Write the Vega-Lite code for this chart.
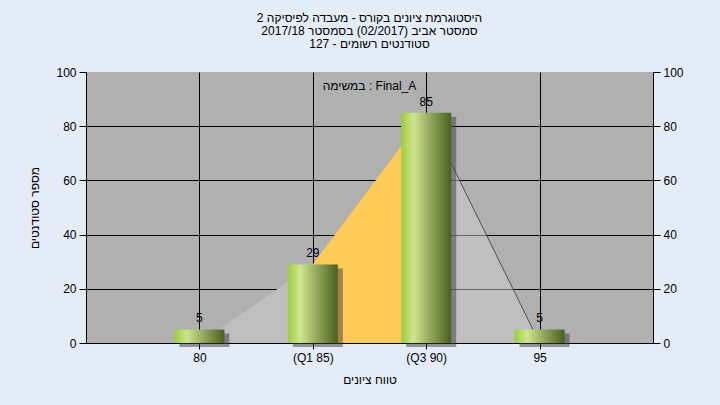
{
  "$schema": "https://vega.github.io/schema/vega-lite/v6.json",
  "width": 567,
  "height": 271,
  "autosize": {"type": "none"},
  "padding": {"left": 86, "top": 72, "right": 67, "bottom": 62},
  "background": "#e4ecf8",
  "title": {
    "text": ["2 היסטוגרמת ציונים בקורס - מעבדה לפיסיקה", "2017/18 סמסטר אביב  (02/2017)  בסמסטר", "סטודנטים רשומים - 127"],
    "font": "Liberation Sans",
    "fontSize": 12,
    "fontWeight": "normal",
    "color": "#000000",
    "lineHeight": 13,
    "offset": 15,
    "anchor": "middle"
  },
  "config": {
    "view": {"fill": "#b0b0b0", "stroke": null},
    "axis": {
      "labelFont": "Liberation Sans",
      "labelFontSize": 12,
      "labelColor": "#000000",
      "titleFont": "Liberation Sans",
      "titleFontSize": 12,
      "titleFontWeight": "normal",
      "titleColor": "#000000",
      "domainColor": "#000000",
      "tickColor": "#000000",
      "gridColor": "#000000",
      "gridOpacity": 1,
      "domainWidth": 1,
      "tickWidth": 1,
      "gridWidth": 1
    },
    "text": {"font": "Liberation Sans", "fontSize": 12, "color": "#000000"}
  },
  "datasets": {
    "bars": [
      {"range": "80", "count": 5},
      {"range": "(Q1 85)", "count": 29},
      {"range": "(Q3 90)", "count": 85},
      {"range": "95", "count": 5}
    ],
    "curve": [
      {"range": "80", "value": 0, "part": "low"},
      {"range": "(Q1 85)", "value": 29, "part": "low"},
      {"range": "(Q1 85)", "value": 29, "part": "iqr"},
      {"range": "(Q3 90)", "value": 85, "part": "iqr"},
      {"range": "(Q3 90)", "value": 85, "part": "high"},
      {"range": "95", "value": 0, "part": "high"}
    ],
    "note": [{"label": "במשימה : Final_A", "level": 95}]
  },
  "encoding": {
    "x": {
      "field": "range",
      "type": "nominal",
      "scale": {"type": "point", "padding": 1, "domain": ["80", "(Q1 85)", "(Q3 90)", "95"]},
      "axis": {
        "title": "טווח ציונים",
        "labelAngle": 0,
        "tickSize": 6,
        "labelPadding": 3,
        "titlePadding": 11,
        "grid": true
      }
    }
  },
  "resolve": {"axis": {"y": "independent"}},
  "layer": [
    {
      "data": {"name": "curve"},
      "transform": [{"filter": "datum.part === 'low'"}],
      "mark": {"type": "area", "color": "#bfbfbf", "opacity": 1},
      "encoding": {
        "y": {
          "field": "value",
          "type": "quantitative",
          "scale": {"domain": [0, 100], "nice": false},
          "axis": {
            "title": "מספר סטודנטים",
            "values": [0, 20, 40, 60, 80, 100],
            "tickSize": 7,
            "labelPadding": 3,
            "titlePadding": 14,
            "grid": true,
            "gridColor": {"condition": {"test": "datum.value === 100", "value": "transparent"}, "value": "#000000"}
          }
        }
      }
    },
    {
      "data": {"name": "curve"},
      "transform": [{"filter": "datum.part === 'iqr'"}],
      "mark": {"type": "area", "color": "#ffcb57", "opacity": 1},
      "encoding": {
        "y": {"field": "value", "type": "quantitative", "axis": null}
      }
    },
    {
      "data": {"name": "curve"},
      "transform": [{"filter": "datum.part === 'high'"}],
      "mark": {"type": "area", "color": "#cdcdcd", "opacity": 0.5},
      "encoding": {
        "y": {"field": "value", "type": "quantitative", "axis": null}
      }
    },
    {
      "data": {"name": "curve"},
      "transform": [{"filter": "datum.part === 'high'"}],
      "mark": {"type": "line", "color": "#505050", "strokeWidth": 1},
      "encoding": {
        "y": {"field": "value", "type": "quantitative", "axis": null}
      }
    },
    {
      "data": {"name": "bars"},
      "mark": {"type": "bar", "width": 50, "color": "#3c3c3c", "opacity": 0.5, "xOffset": 5, "yOffset": 4},
      "encoding": {
        "y": {"field": "count", "type": "quantitative", "axis": null}
      }
    },
    {
      "data": {"name": "bars"},
      "mark": {
        "type": "bar",
        "width": 50,
        "color": {
          "gradient": "linear",
          "x1": 0, "y1": 0, "x2": 1, "y2": 0,
          "stops": [
            {"offset": 0, "color": "#9dcb3a"},
            {"offset": 0.25, "color": "#cfe690"},
            {"offset": 0.55, "color": "#97ad60"},
            {"offset": 1, "color": "#4a611f"}
          ]
        }
      },
      "encoding": {
        "y": {
          "field": "count",
          "type": "quantitative",
          "axis": {
            "orient": "right",
            "title": null,
            "values": [0, 20, 40, 60, 80, 100],
            "tickSize": 7,
            "labelPadding": 3,
            "grid": false
          }
        }
      }
    },
    {
      "data": {"name": "bars"},
      "mark": {"type": "text", "baseline": "bottom", "dy": -4},
      "encoding": {
        "y": {"field": "count", "type": "quantitative", "axis": null},
        "text": {"field": "count", "type": "quantitative"}
      }
    },
    {
      "data": {"name": "note"},
      "mark": {"type": "text", "x": {"expr": "width/2"}, "align": "center", "baseline": "middle"},
      "encoding": {
        "x": null,
        "y": {"field": "level", "type": "quantitative", "axis": null},
        "text": {"field": "label", "type": "nominal"}
      }
    }
  ]
}
